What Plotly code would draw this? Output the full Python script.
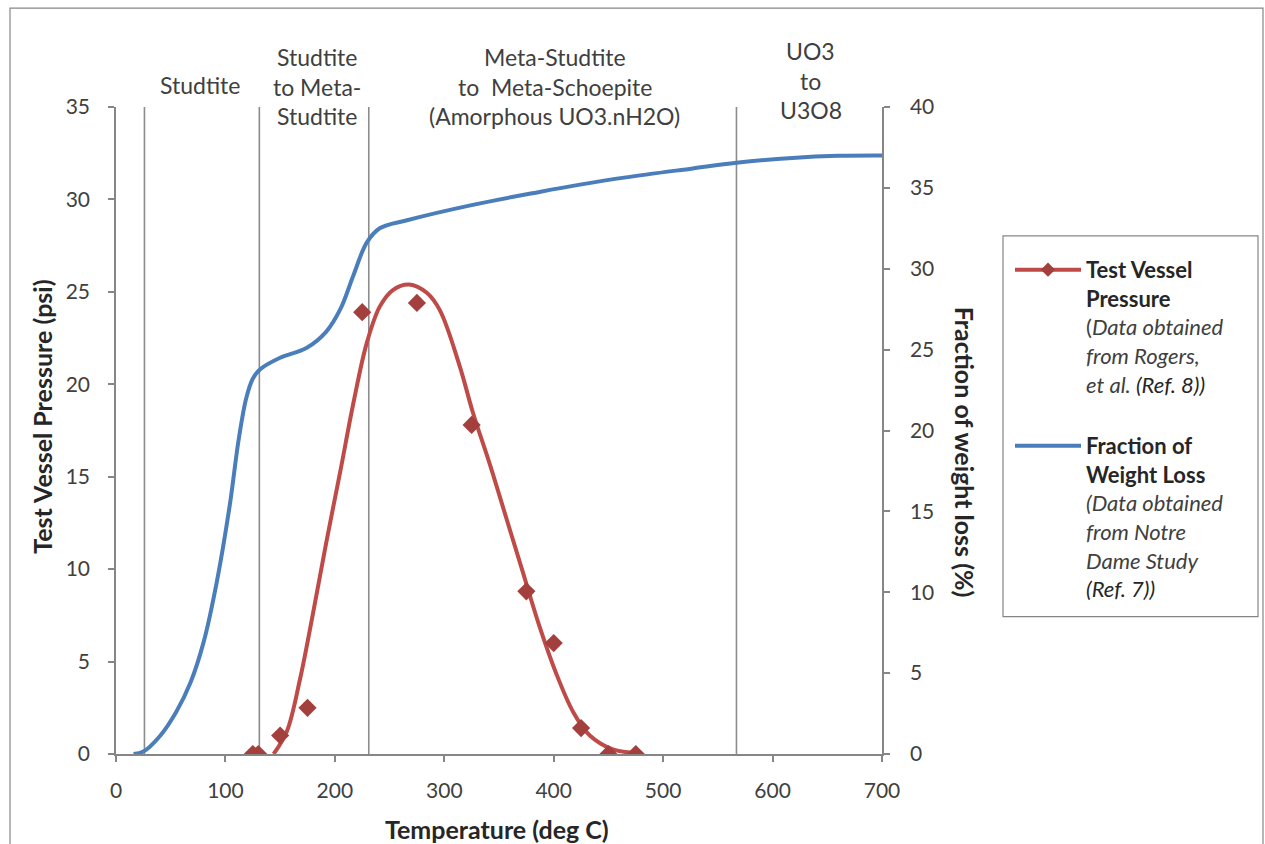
import plotly.graph_objects as go

# ---------------- data ----------------
# Measured test-vessel pressure (markers), psi
pressure_temp = [125, 130, 150, 175, 225, 275, 325, 375, 400, 425, 450, 475]
pressure_psi = [0, 0, 1.0, 2.5, 23.9, 24.4, 17.8, 8.8, 6.0, 1.4, 0, 0]

# Smoothed pressure fit (red curve), psi
fit_temp = [144, 156, 168, 180, 192, 205, 217, 229, 241, 253, 268, 284, 296,
            314, 326, 342, 357, 372, 387, 402, 418, 433, 454, 477]
fit_psi = [0, 1.2, 4.0, 7.6, 11.4, 15.3, 19.0, 22.2, 24.2, 25.1, 25.4, 24.95,
           24.0, 21.0, 18.5, 15.6, 12.7, 9.8, 6.9, 4.4, 2.25, 1.0, 0.25, 0.05]

# Fraction of weight loss (blue curve), %
wl_temp = [16, 25, 40, 55, 68, 80, 92, 104, 112, 119, 125, 132, 150, 174,
           192, 205, 217, 229, 241, 266, 326, 387, 424, 466, 527, 567, 618, 660, 700]
wl_pct = [0, 0.15, 1.1, 2.6, 4.4, 6.9, 10.6, 15.4, 19.4, 22.0, 23.2, 23.8,
          24.5, 25.1, 26.1, 27.5, 29.6, 31.6, 32.5, 33.0, 33.95, 34.75, 35.2,
          35.65, 36.2, 36.55, 36.85, 36.98, 37.0]

# Phase boundaries (deg C) and phase labels
phase_bounds = [26, 131, 231, 567]
phase_label_x = [77, 184, 401, 635]
phase_labels = [
    ["Studtite"],
    ["Studtite", "to Meta-", "Studtite"],
    ["Meta-Studtite", "to  Meta-Schoepite", "(Amorphous UO3.nH2O)"],
    ["UO3", "to", "U3O8"],
]
phase_label_y = [
    [1.034],
    [1.078, 1.031, 0.986],
    [1.078, 1.031, 0.986],
    [1.086, 1.040, 0.995],
]

x_ticks = [0, 100, 200, 300, 400, 500, 600, 700]
left_ticks = [0, 5, 10, 15, 20, 25, 30, 35]
right_ticks = [0, 5, 10, 15, 20, 25, 30, 35, 40]

# ---------------- styling ----------------
FONT = "Lato"
AXIS_GREY = "#868686"
TXT = "#404040"
BLUE = "#4A7EBB"
RED = "#BE4B48"
MARK = "#A33F3C"

fig = go.Figure()

# legend entry for pressure (line + marker)
fig.add_trace(go.Scatter(
    x=[None], y=[None], mode="lines+markers",
    line=dict(color=RED, width=4),
    marker=dict(symbol="diamond", size=11, color=MARK),
    name=("<b>Test Vessel<br>Pressure</b><br>"
          "<span style='color:#404040'>(<i>Data obtained<br>from Rogers,<br>"
          "et al.</i></span><i> (Ref. 8))</i>"),
    legendgroup="p", showlegend=True,
))

fig.add_trace(go.Scatter(
    x=fit_temp, y=fit_psi, mode="lines",
    line=dict(color=RED, width=4, shape="spline", smoothing=1.0),
    showlegend=False, yaxis="y", hoverinfo="skip",
))
fig.add_trace(go.Scatter(
    x=pressure_temp, y=pressure_psi, mode="markers",
    marker=dict(symbol="diamond", size=14, color=MARK),
    showlegend=False, yaxis="y",
))

fig.add_trace(go.Scatter(
    x=wl_temp, y=wl_pct, mode="lines",
    line=dict(color=BLUE, width=4, shape="spline", smoothing=1.0),
    name=("<b>Fraction of<br>Weight Loss</b><br>"
          "<span style='color:#404040'><i>(Data obtained<br>from Notre<br>"
          "Dame Study</i></span><br><i>(Ref. 7))</i>"),
    legendgroup="w", yaxis="y2",
))

# phase boundary lines
shapes = []
for b in phase_bounds:
    shapes.append(dict(type="line", xref="x", yref="y", x0=b, x1=b, y0=0, y1=35,
                       line=dict(color="#8C8C8C", width=1.6), layer="below"))
# legend box
shapes.append(dict(type="rect", xref="paper", yref="paper",
                   x0=(1003 - 116) / 766, x1=(1258 - 116) / 766,
                   y0=(754.5 - 617) / 647.5, y1=(754.5 - 236) / 647.5,
                   line=dict(color=AXIS_GREY, width=1.2)))
# outer chart border
shapes.append(dict(type="rect", xref="paper", yref="paper",
                   x0=(10 - 116) / 766, x1=(1263 - 116) / 766,
                   y0=(754.5 - 900) / 647.5, y1=(754.5 - 8) / 647.5,
                   line=dict(color=AXIS_GREY, width=1.2)))

annotations = []
for xc, lines, ys in zip(phase_label_x, phase_labels, phase_label_y):
    for t, yy in zip(lines, ys):
        annotations.append(dict(x=xc, y=yy, xref="x", yref="paper", text=t,
                                showarrow=False, xanchor="center", yanchor="middle",
                                font=dict(family=FONT, size=23, color=TXT)))

annotations.append(dict(x=0.497, y=(754.5 - 830) / 647.5, xref="paper", yref="paper",
                        text="<b>Temperature (deg C)</b>", showarrow=False,
                        xanchor="center", yanchor="middle",
                        font=dict(family=FONT, size=25, color="#262626")))
annotations.append(dict(x=(42 - 116) / 766, y=(754.5 - 417) / 647.5, xref="paper",
                        yref="paper", text="<b>Test Vessel Pressure (psi)</b>",
                        showarrow=False, textangle=-90, xanchor="center",
                        yanchor="middle",
                        font=dict(family=FONT, size=25, color="#262626")))
annotations.append(dict(x=(965 - 116) / 766, y=(754.5 - 452) / 647.5, xref="paper",
                        yref="paper", text="<b>Fraction of weight loss (%)</b>",
                        showarrow=False, textangle=90, xanchor="center",
                        yanchor="middle",
                        font=dict(family=FONT, size=25, color="#262626")))

axis_common = dict(showgrid=False, zeroline=False, showline=True, linecolor=AXIS_GREY,
                   linewidth=1.5, ticks="outside", ticklen=6, tickcolor=AXIS_GREY,
                   tickwidth=1.5, tickfont=dict(family=FONT, size=21, color=TXT))

fig.update_layout(
    width=1265, height=844,
    margin=dict(l=116, r=383, t=107, b=89.5),
    paper_bgcolor="white", plot_bgcolor="white",
    xaxis=dict(range=[0, 700], tickvals=x_ticks, ticklabelstandoff=11, **axis_common),
    yaxis=dict(range=[0, 35], tickvals=left_ticks, ticklabelstandoff=14, **axis_common),
    yaxis2=dict(range=[0, 40], tickvals=right_ticks, overlaying="y", side="right",
                ticklabelstandoff=16, **axis_common),
    shapes=shapes,
    annotations=annotations,
    showlegend=True,
    legend=dict(x=(1010 - 116) / 766, y=(754.5 - 249) / 647.5, xanchor="left",
                yanchor="top", bgcolor="rgba(0,0,0,0)", borderwidth=0,
                valign="top", tracegroupgap=30, itemwidth=66,
                font=dict(family=FONT, size=22, color="#262626")),
    font=dict(family=FONT),
)

fig.write_html("out.html")
